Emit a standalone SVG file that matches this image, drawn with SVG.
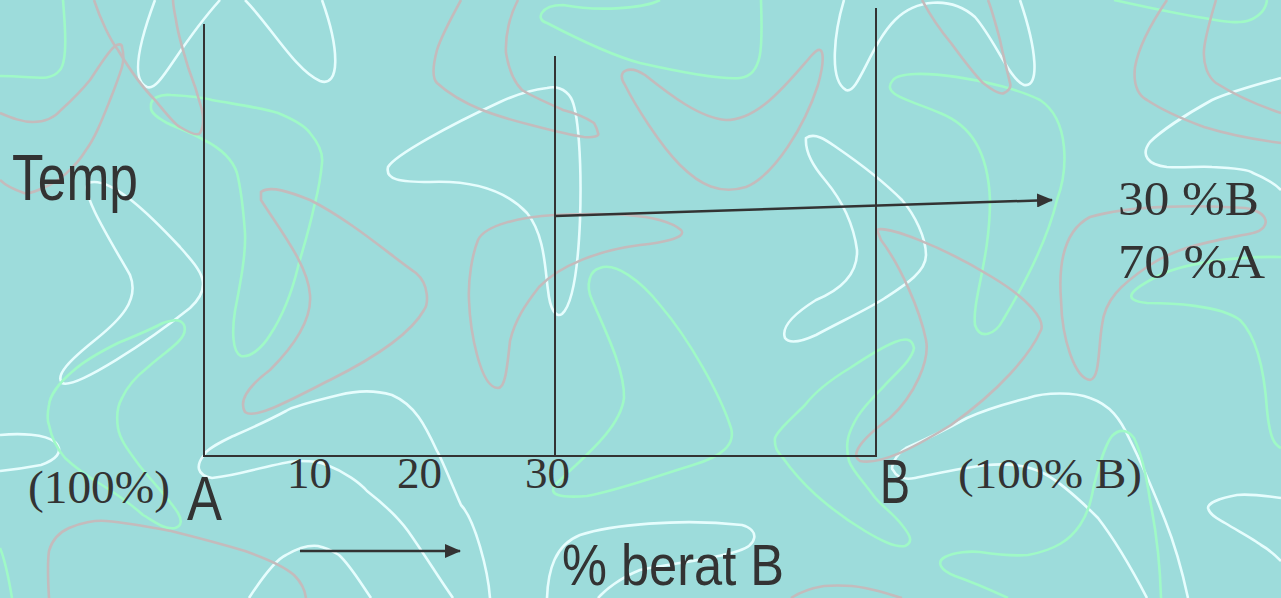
<svg xmlns="http://www.w3.org/2000/svg" width="1281" height="598" viewBox="0 0 1281 598">
<defs>
<style>
.bg{fill:#9ddcdb}
.w{fill:none;stroke:#e6fdfd;stroke-width:2.6}
.g{fill:none;stroke:#9ff9c6;stroke-width:2.6}
.p{fill:none;stroke:#c4bbbc;stroke-width:2.6}
.ax{stroke:#333;stroke-width:2;fill:none}
.arr{stroke:#333;stroke-width:2.5;fill:none;marker-end:url(#ah)}
.sans{font-family:"Liberation Sans",Arial,sans-serif;fill:#333}
.serif{font-family:"Liberation Serif","Times New Roman",serif;fill:#333}
</style>
<marker id="ah" viewBox="0 0 16 14" refX="15" refY="7" markerWidth="16" markerHeight="14" markerUnits="userSpaceOnUse" orient="auto">
<path d="M0,0 L16,7 L0,14 Z" fill="#333"/>
</marker>
</defs>
<rect class="bg" x="0" y="0" width="1281" height="598"/>
<g id="background-pattern">
<path class="w" d="M155,0 C140,40 130,80 147,87 C160,92 175,50 220,0"/>
<path class="w" d="M245,0 C270,25 295,70 320,81 C340,88 340,50 322,0"/>
<path class="w" d="M547,88 C530,90 515,95 500,102 C450,125 395,155 388,167 C385,180 400,182 430,182 C480,180 510,195 527,213 C545,235 545,270 548,290 C550,310 556,318 562,314 C572,305 578,270 580,220 C582,160 578,110 571,98 C565,88 555,86 547,88 Z"/>
<path class="w" d="M88,183 C80,192 110,240 130,275 C140,300 120,320 95,340 C70,360 55,375 62,383 C75,390 150,340 190,308 C215,285 200,270 180,247 C150,215 110,175 88,183 Z"/>
<path class="w" d="M490,598 C488,570 475,520 461,505 C450,480 440,455 437,451 C425,425 415,405 392,395 C375,390 355,391 339,395 C310,402 290,408 286,411 C260,425 235,435 229,438 C215,445 206,450 204,455 C196,465 196,475 212,478 C230,476 245,472 253,470 C275,465 290,461 298,461 C315,461 320,462 327,465 C345,472 360,483 367,491 C385,505 400,520 408,531 C425,555 440,580 453,598"/>
<path class="w" d="M0,435 C20,433 45,434 55,442 C65,452 55,460 41,465 C25,468 10,470 0,471"/>
<path class="w" d="M249,598 C262,578 275,560 286,555 C298,548 310,545 318,546 C328,548 334,552 339,555 C350,565 360,582 371,598"/>
<path class="w" d="M547,598 C548,570 555,545 580,535 C610,525 680,518 742,525 C760,530 758,545 738,551 C710,560 660,565 640,570 C620,578 605,590 598,598"/>
<path class="w" d="M1188,598 C1182,570 1175,545 1165,520 C1155,495 1140,460 1130,440 C1120,418 1110,405 1090,398 C1075,392 1045,392 1028,398 C1000,405 980,412 967,418 C945,430 920,442 906,448 C895,455 890,468 893,470 C897,478 905,480 915,478 C940,473 960,468 987,465 C1010,463 1030,466 1045,474 C1065,485 1090,510 1098,518 C1115,540 1135,575 1147,598"/>
<path class="w" d="M1281,498 C1260,495 1245,494 1237,495 C1220,498 1208,503 1208,508 C1210,516 1220,520 1225,523 C1240,532 1255,540 1261,545 C1270,550 1275,555 1281,561"/>
<path class="w" d="M806,138 C805,150 812,165 825,180 C840,198 853,220 857,250 C858,275 840,290 816,300 C800,310 780,325 785,338 C790,345 805,340 816,335 C840,322 870,308 885,298 C905,285 926,272 926,255 C926,238 915,215 902,200 C880,178 855,160 836,147 C826,140 815,132 806,138 Z"/>
<path class="w" d="M844,0 C835,30 828,80 846,90 C858,95 870,45 895,20 C915,0 950,-5 975,17 C995,40 1010,80 1024,85 C1040,88 1037,50 1020,0"/>
<path class="w" d="M1281,78 C1255,85 1230,92 1212,100 C1185,115 1160,132 1150,142 C1140,155 1148,165 1167,167 C1185,168 1200,166 1212,167 C1235,168 1250,170 1253,173 C1265,178 1275,184 1281,190"/>
<path class="g" d="M63,0 C65,25 68,60 60,70 C52,80 40,78 25,77 C12,76 5,76 0,76"/>
<path class="g" d="M151,107 C150,98 160,94 171,95 C190,96 205,98 212,100 C240,105 262,108 278,113 C295,120 305,126 310,133 C320,145 323,155 322,163 C320,185 317,195 314,207 C308,235 300,258 298,267 C290,300 280,320 270,335 C262,348 250,358 241,356 C232,352 232,330 235,311 C240,285 246,255 245,233 C243,205 240,185 237,173 C232,158 220,148 204,140 C190,132 175,127 167,123 C158,118 150,113 151,107 Z"/>
<path class="g" d="M660,0 C645,8 600,12 563,5 C540,5 535,20 547,23 C570,35 610,55 640,63 C680,72 720,80 740,78 C765,75 762,40 761,0"/>
<path class="g" d="M893,80 C905,65 1000,80 1040,100 C1070,120 1068,170 1057,200 C1045,250 1015,300 1003,320 C995,335 980,340 975,325 C972,300 990,260 990,200 C988,150 970,125 940,113 C910,100 880,95 893,80 Z"/>
<path class="g" d="M1114,0 C1150,8 1185,15 1204,18 C1225,22 1240,24 1250,20 C1262,15 1266,8 1267,0"/>
<path class="g" d="M1281,257 C1230,256 1180,265 1160,275 C1130,290 1120,300 1147,303 C1170,303 1220,305 1240,320 C1260,340 1265,380 1267,410 C1270,440 1275,445 1281,448"/>
<path class="g" d="M600,268 C590,270 585,285 592,300 C605,330 625,370 624,398 C620,430 580,460 555,485 C548,495 560,498 587,496 C620,490 660,475 693,465 C720,457 738,445 730,425 C720,395 690,340 660,305 C640,280 615,262 600,268 Z"/>
<path class="g" d="M914,348 C912,338 905,338 895,342 C880,348 865,358 850,368 C830,380 815,392 805,405 C790,420 778,430 775,438 C774,448 778,452 783,458 C795,475 805,485 816,495 C835,512 850,522 865,531 C880,540 895,548 905,546 C914,542 910,535 902,525 C892,512 880,505 873,495 C862,480 852,470 849,461 C845,445 848,435 853,425 C860,410 873,398 885,385 C897,372 912,360 914,348 Z"/>
<path class="g" d="M1008,598 C995,592 975,583 955,576 C940,570 936,562 945,557 C955,552 970,551 980,552 C1000,555 1015,556 1028,555 C1055,550 1070,540 1080,525 C1090,510 1092,495 1094,485 C1100,462 1105,445 1112,436 C1120,428 1128,430 1134,438 C1142,455 1147,480 1150,500 C1156,530 1160,560 1161,598"/>
<path class="g" d="M184,325 C180,318 172,320 163,323 C150,330 130,338 118,343 C100,352 85,360 73,371 C60,382 50,395 49,405 C47,415 47,420 49,425 C52,440 58,450 65,458 C78,470 90,478 102,485 C118,495 132,505 143,515 C155,522 165,530 175,528 C182,526 182,520 178,513 C170,500 155,485 139,465 C128,450 120,440 118,428 C116,415 118,405 122,398 C128,385 138,375 147,368 C158,358 170,350 178,342 C184,336 186,330 184,325 Z"/>
<path class="g" d="M0,548 C5,560 9,580 12,598"/>
<path class="p" d="M94,0 C100,18 110,40 118,50 C130,70 145,90 155,100 C165,112 175,125 180,127 C190,133 198,136 200,133 C205,125 203,115 202,110 C198,95 193,80 188,67 C183,50 178,35 176,20 C174,10 173,5 173,0"/>
<path class="p" d="M0,113 C12,118 22,122 33,122 C45,122 55,117 61,110 C72,100 82,90 90,80 C100,65 108,52 114,47 C118,43 122,44 122,47 C124,55 124,60 122,67 C118,80 114,90 110,100 C102,120 95,138 86,150 C75,168 58,182 45,187 C35,192 28,194 24,193 C15,190 5,185 0,180"/>
<path class="p" d="M261,192 C270,185 290,192 310,200 C350,220 390,255 416,273 C430,285 428,305 424,310 C410,335 370,360 330,380 C290,400 255,420 245,412 C238,400 250,385 270,370 C295,345 312,320 310,295 C308,265 280,230 261,200 Z"/>
<path class="p" d="M461,0 C450,20 440,40 437,50 C433,65 432,78 437,83 C450,95 465,103 482,110 C500,117 515,121 531,125 C550,130 570,135 584,137 C593,138 600,136 598,133 C597,128 595,125 594,123 C585,117 575,113 563,110 C548,103 533,97 522,90 C512,80 508,65 506,53 C505,35 510,15 518,0"/>
<path class="p" d="M625,85 C615,70 630,65 645,75 C670,95 700,118 726,120 C760,120 790,80 812,55 C825,40 825,60 818,85 C805,125 775,175 746,187 C720,195 700,185 680,165 C660,145 635,105 625,85 Z"/>
<path class="p" d="M478,240 C485,225 520,217 555,215 C600,213 660,212 681,230 C688,238 660,243 640,245 C600,250 560,265 539,287 C525,305 515,320 510,341 C507,370 505,388 498,388 C480,388 470,330 469,300 C468,280 472,255 478,240 Z"/>
<path class="p" d="M877,230 C885,225 940,245 992,277 C1030,300 1045,320 1041,330 C1030,355 1000,390 951,425 C910,450 880,465 860,461 C850,455 860,440 890,418 C915,395 930,360 926,340 C920,310 900,265 881,240 Z"/>
<path class="p" d="M1061,300 C1058,260 1065,230 1090,217 C1130,205 1200,205 1245,208 C1270,212 1272,228 1253,233 C1220,240 1180,245 1150,265 C1120,285 1105,300 1102,325 C1098,350 1100,378 1090,380 C1075,378 1062,340 1061,300 Z"/>
<path class="p" d="M1167,0 C1150,25 1138,50 1135,67 C1133,85 1138,95 1147,100 C1165,112 1185,120 1204,127 C1230,135 1258,140 1281,143"/>
<path class="p" d="M1216,0 C1210,20 1205,38 1204,50 C1203,65 1208,77 1216,83 C1235,95 1260,106 1281,113"/>
<path class="p" d="M922,0 C930,15 940,30 951,43 C962,58 975,75 983,83 C992,90 1000,95 1004,93 C1010,90 1011,86 1010,83 C1007,70 1003,55 1000,40 C996,25 992,10 988,0"/>
<path class="p" d="M49,598 C48,580 47,565 49,551 C52,540 60,532 69,528 C80,523 95,520 106,521 C130,523 150,527 171,531 C195,537 225,545 245,551 C265,558 285,567 294,575 C302,583 305,590 306,598"/>
<path class="p" d="M791,598 C800,592 812,588 824,586 C840,585 855,586 865,588 C880,591 892,595 902,598"/>
</g>
<g id="connectors">
<line class="ax" x1="204" y1="24" x2="204" y2="457"/>
<line class="ax" x1="203" y1="456" x2="877" y2="456"/>
<line class="ax" x1="555" y1="56" x2="555" y2="457"/>
<line class="ax" x1="876" y1="8" x2="876" y2="457"/>
<line class="arr" x1="555" y1="216" x2="1052" y2="200"/>
<line class="arr" x1="300" y1="551" x2="460" y2="551"/>
</g>
<g id="node-temp"><text class="sans" x="12" y="200" font-size="64" textLength="126" lengthAdjust="spacingAndGlyphs">Temp</text></g>
<g id="node-100a"><text class="serif" x="28" y="503" font-size="46" textLength="142" lengthAdjust="spacingAndGlyphs">(100%)</text></g>
<g id="node-a"><text class="sans" x="187" y="520" font-size="63" textLength="35" lengthAdjust="spacingAndGlyphs">A</text></g>
<g id="node-10"><text class="serif" x="287" y="488" font-size="45">10</text></g>
<g id="node-20"><text class="serif" x="397" y="488" font-size="45">20</text></g>
<g id="node-30"><text class="serif" x="525" y="488" font-size="45">30</text></g>
<g id="node-b"><text class="sans" x="880" y="503" font-size="63" textLength="30" lengthAdjust="spacingAndGlyphs">B</text></g>
<g id="node-100b"><text class="serif" x="958" y="488" font-size="42" textLength="184" lengthAdjust="spacingAndGlyphs">(100% B)</text></g>
<g id="node-30b"><text class="serif" x="1118" y="215" font-size="48" textLength="141" lengthAdjust="spacingAndGlyphs">30 %B</text></g>
<g id="node-70a"><text class="serif" x="1118" y="278" font-size="48" textLength="147" lengthAdjust="spacingAndGlyphs">70 %A</text></g>
<g id="node-berat"><text class="sans" x="562" y="585" font-size="58" textLength="222" lengthAdjust="spacingAndGlyphs">% berat B</text></g>
</svg>
